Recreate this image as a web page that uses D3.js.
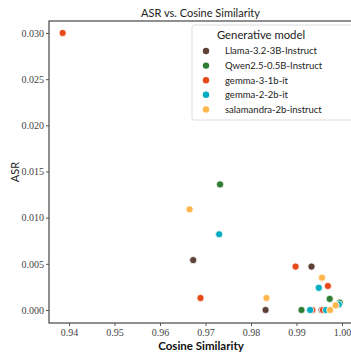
<!DOCTYPE html>
<html>
<head>
<meta charset="utf-8">
<script src="https://cdn.jsdelivr.net/npm/d3@7/dist/d3.min.js"></script>
<style>
  html, body { margin: 0; padding: 0; background: #fff; }
  svg { display: block; }
</style>
</head>
<body>
<svg id="chart" width="351" height="354"></svg>
<script>
// Generative models and their colours
const models = ["Llama-3.2-3B-Instruct", "Qwen2.5-0.5B-Instruct", "gemma-3-1b-it", "gemma-2-2b-it", "salamandra-2b-instruct"];
const colors = ["#5d4037", "#2e7d32", "#e64a19", "#00acc1", "#ffb74d"];

// Cosine similarity / ASR per model
const llamaCos = [0.9673, 0.9933, 0.9832, 0.9955];
const llamaAsr = [0.0054, 0.0047, 0.0000, 0.0000];
const qwenCos  = [0.9732, 0.9973, 0.9995, 0.9911];
const qwenAsr  = [0.0136, 0.0012, 0.0008, 0.0000];
const gemma3Cos = [0.9386, 0.9898, 0.9969, 0.9689, 0.9935, 0.9958];
const gemma3Asr = [0.0300, 0.0047, 0.0026, 0.0013, 0.0000, 0.0000];
const gemma2Cos = [0.9730, 0.9949, 0.9993, 0.9930, 0.9965];
const gemma2Asr = [0.0082, 0.0024, 0.0006, 0.0000, 0.0000];
const salCos = [0.9665, 0.9956, 0.9834, 0.9986, 0.9974];
const salAsr = [0.0109, 0.0035, 0.0013, 0.0005, 0.0000];

const xTicks = [0.94, 0.95, 0.96, 0.97, 0.98, 0.99, 1.00];
const yTicks = [0.000, 0.005, 0.010, 0.015, 0.020, 0.025, 0.030];

const seriesCos = [llamaCos, qwenCos, gemma3Cos, gemma2Cos, salCos];
const seriesAsr = [llamaAsr, qwenAsr, gemma3Asr, gemma2Asr, salAsr];

const points = [];
models.forEach((m, i) => {
  seriesCos[i].forEach((c, j) => points.push({ model: m, color: colors[i], cos: c, asr: seriesAsr[i][j] }));
});

const svg = d3.select("#chart");
const plotL = 49, plotR = 352, plotT = 21, plotB = 323;

const x = d3.scaleLinear().domain([0.93560, 1.00220]).range([plotL, plotR]);
const y = d3.scaleLinear().domain([-0.00141, 0.03130]).range([plotB, plotT]);

const axisColor = "#555";

// x axis
const gx = svg.append("g").attr("transform", `translate(0,${plotB})`)
  .call(d3.axisBottom(x).tickValues(xTicks).tickFormat(d3.format(".2f")).tickSize(3).tickPadding(3));
// y axis
const gy = svg.append("g").attr("transform", `translate(${plotL},0)`)
  .call(d3.axisLeft(y).tickValues(yTicks).tickFormat(d3.format(".3f")).tickSize(3).tickPadding(2));

[gx, gy].forEach(g => {
  g.select(".domain").remove();
  g.selectAll(".tick line").attr("stroke", axisColor).attr("stroke-width", 1);
  g.selectAll(".tick text").attr("fill", "#444")
    .style("font-family", "'Liberation Serif', 'DejaVu Serif', serif").style("font-size", "10px");
});

// frame
svg.append("rect").attr("x", plotL).attr("y", plotT)
  .attr("width", plotR - plotL).attr("height", plotB - plotT)
  .attr("fill", "none").attr("stroke", axisColor).attr("stroke-width", 1.3);

// points
svg.append("g").selectAll("circle").data(points).join("circle")
  .attr("cx", d => x(d.cos)).attr("cy", d => y(d.asr)).attr("r", 3.6)
  .attr("fill", d => d.color).attr("stroke", "#fff").attr("stroke-width", 0.8);

// title and axis labels
svg.append("text").attr("x", 200.5).attr("y", 17).attr("text-anchor", "middle")
  .style("font-family", "Lato, 'Open Sans', sans-serif").style("font-size", "11px").attr("fill", "#222")
  .text("ASR vs. Cosine Similarity");
svg.append("text").attr("x", 201).attr("y", 350).attr("text-anchor", "middle")
  .style("font-family", "Lato, 'Open Sans', sans-serif").style("font-size", "11.5px").style("font-weight", "bold").attr("fill", "#111")
  .text("Cosine Similarity");
svg.append("text").attr("transform", "translate(19,172) rotate(-90)").attr("text-anchor", "middle")
  .style("font-family", "Lato, 'Open Sans', sans-serif").style("font-size", "11px").attr("fill", "#222")
  .text("ASR");

// legend
const lg = svg.append("g");
lg.append("rect").attr("x", 192).attr("y", 25).attr("width", 170).attr("height", 95).attr("rx", 2)
  .attr("fill", "#fff").attr("fill-opacity", 0.85).attr("stroke", "#ddd").attr("stroke-width", 1);
lg.append("text").attr("x", 261).attr("y", 39).attr("text-anchor", "middle")
  .style("font-family", "Lato, 'Open Sans', sans-serif").style("font-size", "11.3px").attr("fill", "#222")
  .text("Generative model");
models.forEach((m, i) => {
  const yy = 51 + i * 14.6;
  lg.append("circle").attr("cx", 206).attr("cy", yy).attr("r", 3.2).attr("fill", colors[i]);
  lg.append("text").attr("x", 225).attr("y", yy + 3.3)
    .style("font-family", "Lato, 'Open Sans', sans-serif").style("font-size", "9.5px").attr("fill", "#222")
    .text(m);
});
</script>
</body>
</html>
